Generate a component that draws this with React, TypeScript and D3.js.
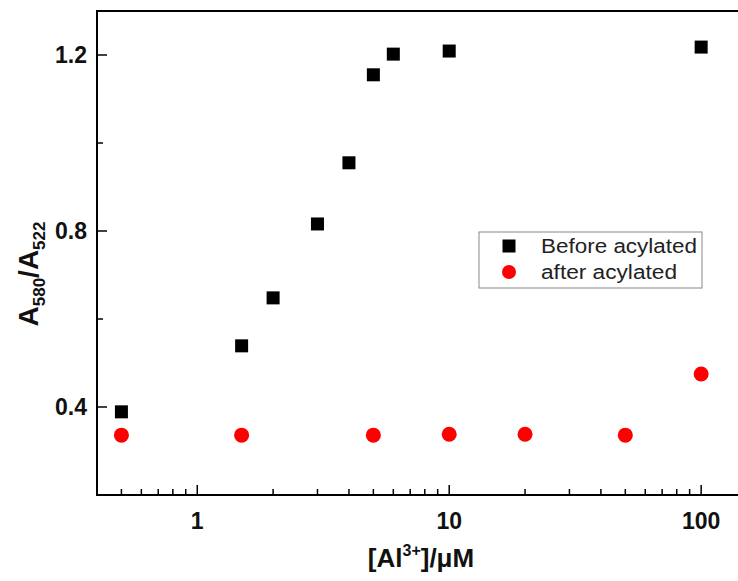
import React from "react";
import * as d3 from "d3";

const beforeX = [0.5, 1.5, 2, 3, 4, 5, 6, 10, 100];
const beforeY = [0.389, 0.539, 0.648, 0.816, 0.955, 1.155, 1.202, 1.209, 1.218];
const afterX = [0.5, 1.5, 5, 10, 20, 50, 100];
const afterY = [0.336, 0.336, 0.336, 0.338, 0.338, 0.336, 0.475];
const xTickLabels = [1, 10, 100];
const yTickLabels = [0.4, 0.8, 1.2];
const yMinorTicks = [0.2, 0.4, 0.6, 0.8, 1.0, 1.2];
const legendLabels = ["Before acylated", "after acylated"];

const W = 738;
const H = 581;
const FONT = "'Liberation Sans', Arial, Helvetica, sans-serif";

export default function App() {
  const x = d3.scaleLog().domain([0.4, 200]).range([97, 777]);
  const y = d3.scaleLinear().domain([0.2, 1.3]).range([495, 11]);
  const [x0, x1] = x.range();
  const [yb, yt] = y.range();

  const xMinor: number[] = [];
  for (const dec of [0.1, 1, 10, 100]) {
    for (let k = 1; k <= 9; k++) {
      const v = dec * k;
      if (v >= 0.4 && v <= 200) xMinor.push(v);
    }
  }

  const before = beforeX.map((v, i) => ({ x: v, y: beforeY[i] }));
  const after = afterX.map((v, i) => ({ x: v, y: afterY[i] }));
  const sq = 13;
  const r = 7.5;

  return (
    <svg
      width={W}
      height={H}
      style={{ position: "absolute", left: 0, top: 0, background: "#fff" }}
      fontFamily={FONT}
    >
      <rect x={0} y={0} width={W} height={H} fill="#fff" />
      {/* frame */}
      <rect x={x0} y={yt} width={x1 - x0} height={yb - yt} fill="none" stroke="#000" strokeWidth={2} />
      {/* x ticks */}
      {xMinor.map((v, i) => {
        const major = xTickLabels.includes(Math.round(v * 1000) / 1000);
        return (
          <line key={"xt" + i} x1={x(v)} x2={x(v)} y1={yb} y2={yb - (major ? 10 : 6)} stroke="#000" strokeWidth={1.5} />
        );
      })}
      {xTickLabels.map((v) => (
        <text key={"xl" + v} x={x(v)} y={529} textAnchor="middle" fontSize={23} fontWeight="bold" fill="#111">
          {v}
        </text>
      ))}
      {/* y ticks */}
      {yMinorTicks.map((v, i) => {
        const major = yTickLabels.some((t) => Math.abs(t - v) < 1e-6);
        return (
          <line key={"yt" + i} x1={x0} x2={x0 + (major ? 10 : 6)} y1={y(v)} y2={y(v)} stroke="#000" strokeWidth={1.5} />
        );
      })}
      {yTickLabels.map((v) => (
        <text key={"yl" + v} x={87} y={y(v) + 8} textAnchor="end" fontSize={23} fontWeight="bold" fill="#111">
          {v.toFixed(1)}
        </text>
      ))}
      {/* axis titles */}
      <text x={421} y={567} textAnchor="middle" fontSize={26} fontWeight="bold" fill="#111">
        [Al<tspan fontSize={16} dy={-11}>3+</tspan>
        <tspan dy={11}>]/μM</tspan>
      </text>
      <text
        transform={`translate(38,274) rotate(-90)`}
        textAnchor="middle"
        fontSize={28}
        fontWeight="bold"
        fill="#111"
      >
        A<tspan fontSize={17} dy={7}>580</tspan>
        <tspan dy={-7}>/A</tspan>
        <tspan fontSize={17} dy={7}>522</tspan>
      </text>
      {/* data */}
      {before.map((d, i) => (
        <rect key={"b" + i} x={x(d.x) - sq / 2} y={y(d.y) - sq / 2} width={sq} height={sq} fill="#000" />
      ))}
      {after.map((d, i) => (
        <circle key={"a" + i} cx={x(d.x)} cy={y(d.y)} r={r} fill="#ff0000" />
      ))}
      {/* legend */}
      <rect x={479} y={232} width={223} height={56} fill="#fff" stroke="#888" strokeWidth={1} />
      <rect x={509 - 6.5} y={246 - 6.5} width={13} height={13} fill="#000" />
      <circle cx={509} cy={272} r={7} fill="#ff0000" />
      <text x={541} y={253} fontSize={20} fill="#222" textLength={156} lengthAdjust="spacingAndGlyphs">
        {legendLabels[0]}
      </text>
      <text x={541} y={279} fontSize={20} fill="#222" textLength={136} lengthAdjust="spacingAndGlyphs">
        {legendLabels[1]}
      </text>
    </svg>
  );
}
